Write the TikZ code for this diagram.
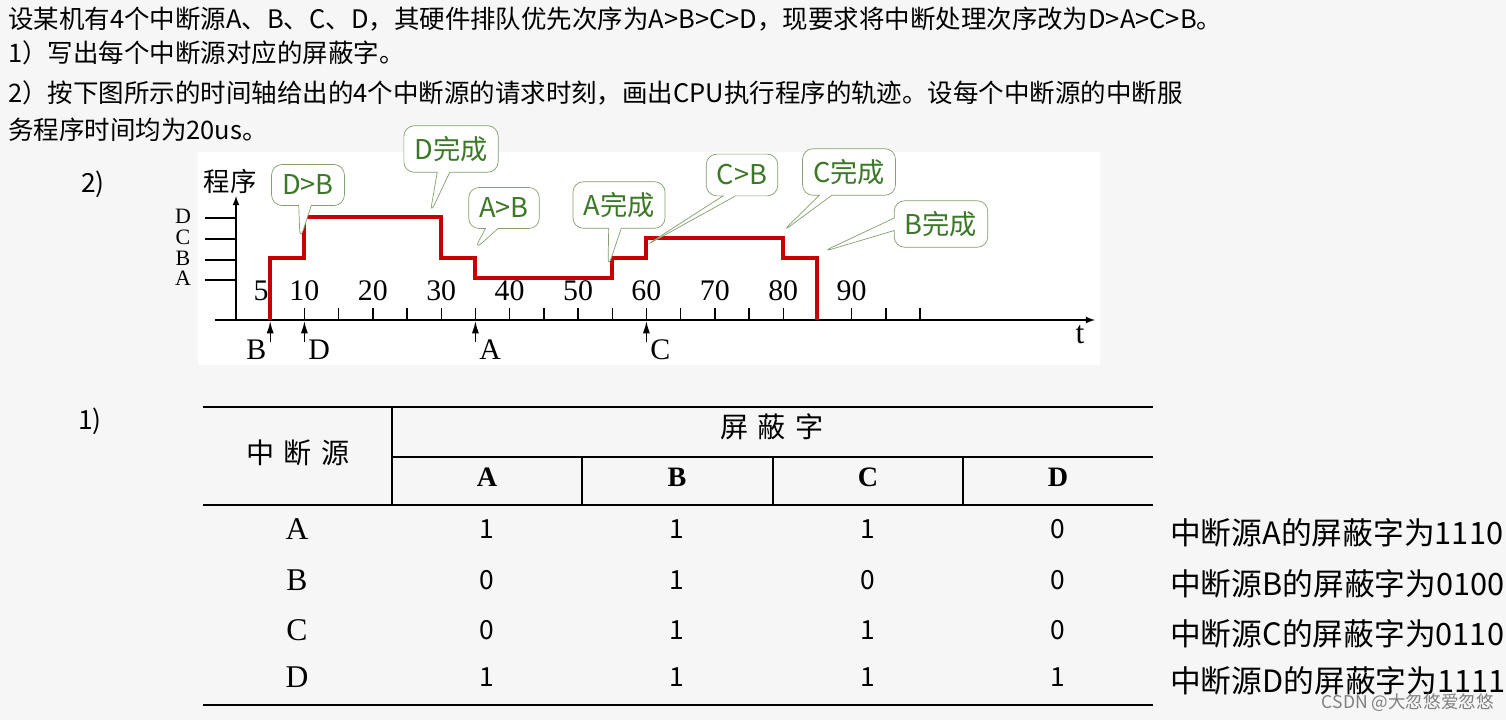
\documentclass[tikz,border=0pt]{standalone}
\usepackage{fontspec}
\setmainfont{Liberation Serif}
\newfontfamily\cjk{Noto Sans CJK SC}
\usetikzlibrary{shapes.callouts,arrows.meta}
\definecolor{pagegray}{RGB}{246,246,246}
\definecolor{tipgreen}{RGB}{60,120,40}
\definecolor{tipedge}{RGB}{130,160,110}
\definecolor{traceRed}{RGB}{200,0,0}
\newcommand{\tx}[1]{236+6.84*#1}
\tikzset{
  callbox/.style={rectangle callout, draw=tipedge, fill=white, rounded corners=6pt,
    font=\cjk\fontsize{15.5}{17}\selectfont, text=tipgreen, inner sep=6pt},
  head/.style={anchor=west, font=\cjk\fontsize{14.5}{16}\selectfont},
  cell/.style={font=\cjk\fontsize{15}{16}\selectfont},
  lvl/.style={font=\fontsize{16}{17}\selectfont}
}
\begin{document}
\begin{tikzpicture}[x=0.02cm, y=-0.02cm]
  \useasboundingbox (0,0) rectangle (1506,720);
  \fill[pagegray] (0,0) rectangle (1506,720);
  % question text
  \node[head] (q1) at (2,19) {设某机有4个中断源A、B、C、D，其硬件排队优先次序为A>B>C>D，现要求将中断处理次序改为D>A>C>B。};
  \node[head] (q2) at (2,53) {1）写出每个中断源对应的屏蔽字。};
  \node[head] (q3) at (2,93) {2）按下图所示的时间轴给出的4个中断源的请求时刻，画出CPU执行程序的轨迹。设每个中断源的中断服};
  \node[head] (q4) at (2,130) {务程序时间均为20us。};
  \node[cell] (p2) at (93,184) {2)};
  \node[cell] (p1) at (90,421) {1)};

  % time chart
  \fill[white] (198,152) rectangle (1100,365);
  \coordinate (o) at (236,320);
  \coordinate (xe) at (1095,320);
  \coordinate (ye) at (236,196);
  \draw[thick, -latex] (215,320) -- (xe);
  \draw[thick, -latex] (236,320) -- (ye);
  \node[lvl, font=\fontsize{18}{19}\selectfont] (tl) at (1080,335) {t};
  \node[cell, font=\cjk\fontsize{15}{16}\selectfont] (yl) at (230,181) {程序};
  \foreach \n/\y in {A/280, B/260, C/239, D/218} {
    \draw[thick] (205,\y) -- (236,\y);
    \node[lvl, font=\fontsize{12.5}{13}\selectfont, inner sep=0pt] (l\n) at (183,\y-2) {\n};
  }
  \foreach \t in {5,10,...,100}
    \draw[thick] ({\tx{\t}},320) -- ({\tx{\t}},308);
  \node[lvl, font=\fontsize{17}{18}\selectfont] (n5) at (261,291) {5};
  \foreach \t in {10,20,30,40,50,60,70,80,90}
    \node[lvl, font=\fontsize{17}{18}\selectfont] (n\t) at ({\tx{\t}},291) {\t};
  % trace
  \draw[traceRed, line width=2.2pt] ({\tx{5}},320) -- ({\tx{5}},258) -- ({\tx{10}},258)
    -- ({\tx{10}},217) -- ({\tx{30}},217) -- ({\tx{30}},258) -- ({\tx{35}},258)
    -- ({\tx{35}},278) -- ({\tx{55}},278) -- ({\tx{55}},258) -- ({\tx{60}},258)
    -- ({\tx{60}},238) -- ({\tx{80}},238) -- ({\tx{80}},258) -- ({\tx{85}},258) -- ({\tx{85}},320);
  % request arrows
  \foreach \n/\t/\a in {B/5/east, D/10/west, A/35/west, C/60/west} {
    \draw[thick, -{Latex[length=7pt,width=4pt]}] ({\tx{\t}},342) -- ({\tx{\t}},321);
    \node[lvl, font=\fontsize{17}{18}\selectfont, anchor=\a, inner sep=2pt] (r\n) at ({\tx{\t}},350) {\n};
  }
  % callouts
  \node[callbox, callout absolute pointer={(300,240)}] (cDB) at (308,185) {D>B};
  \node[callbox, callout absolute pointer={(430,214)}] (cDF) at (451,149) {D完成};
  \node[callbox, callout absolute pointer={(474,250)}] (cAB) at (504,208) {A>B};
  \node[callbox, callout absolute pointer={(608,268)}] (cAF) at (619,205) {A完成};
  \node[callbox, callout absolute pointer={(645,246)}] (cCB) at (742,175) {C>B};
  \node[callbox, callout absolute pointer={(782,232)}] (cCF) at (849,172) {C完成};
  \node[callbox, callout absolute pointer={(822,252)}] (cBF) at (941,224) {B完成};

  % table
  \draw[thick] (203,407) -- (1153,407);
  \draw[thick] (392,457) -- (1153,457);
  \draw[thick] (203,505) -- (1153,505);
  \draw[thick] (203,705) -- (1153,705);
  \draw[thick] (392,407) -- (392,505);
  \foreach \x in {582,773,963} \draw[thick] (\x,457) -- (\x,505);
  \node[cell, font=\cjk\fontsize{16}{17}\selectfont] (hsrc) at (298,453) {中\,\,断\,\,源};
  \node[cell, font=\cjk\fontsize{16}{17}\selectfont] (hmask) at (772,427) {屏\,\,蔽\,\,字};
  \foreach \n/\x in {A/487, B/677, C/868, D/1058}
    \node[lvl, font=\bfseries\fontsize{16}{17}\selectfont] (h\n) at (\x,477) {\n};
  \foreach \n/\y/\a/\b/\c/\d/\w in {A/529/1/1/1/0/1110, B/580/0/1/0/0/0100, C/630/0/1/1/0/0110, D/677/1/1/1/1/1111} {
    \node[lvl, font=\fontsize{18}{19}\selectfont] (s\n) at (297,\y) {\n};
    \node[cell] (a\n) at (487,\y) {\a};
    \node[cell] (b\n) at (677,\y) {\b};
    \node[cell] (c\n) at (868,\y) {\c};
    \node[cell] (d\n) at (1058,\y) {\d};
    \node[cell, anchor=west, font=\cjk\fontsize{17.5}{18}\selectfont] (m\n) at (1164,\y+4) {中断源\n 的屏蔽字为\w};
  }
  \node[anchor=east, font=\cjk\fontsize{10}{11}\selectfont, text=gray] (wm) at (1500,703) {CSDN @大忽悠爱忽悠};
\end{tikzpicture}
\end{document}
